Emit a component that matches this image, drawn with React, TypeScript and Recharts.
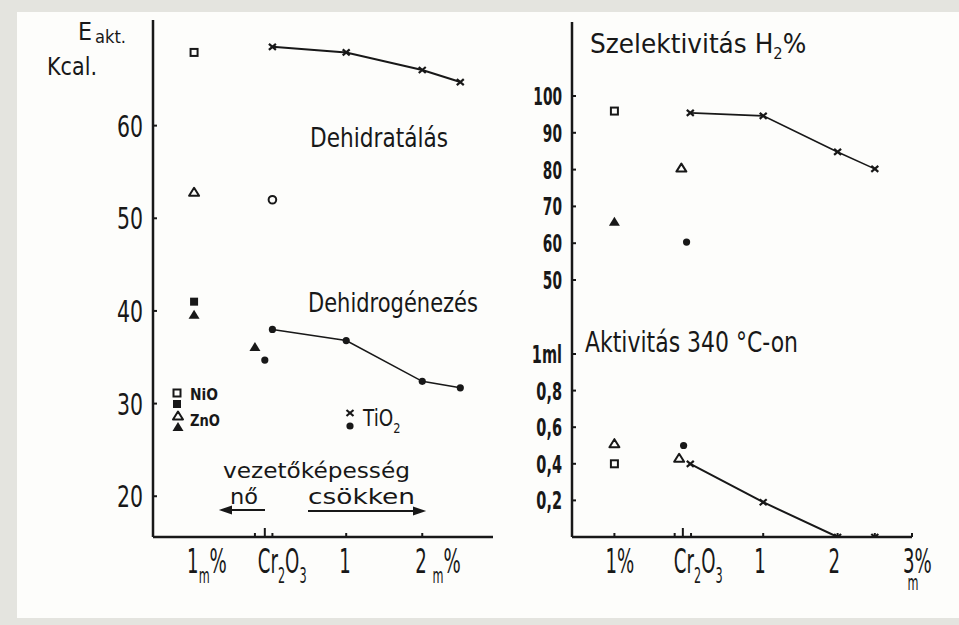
import React from 'react';
import { ScatterChart, Scatter, XAxis, YAxis } from 'recharts';

const INK = '#181818';
const PAPER = '#fdfdfb';
const FONT = "'DejaVu Sans', 'Liberation Sans', sans-serif";

type Pt = { x: number; y: number };
type Part = [string, boolean, number?, number?];

// --- E akt. (kcal) panel ---
const eNiODehydration: Pt[] = [{ x: -1, y: 67.9 }];
const eZnODehydration: Pt[] = [{ x: -1, y: 52.8 }];
const eNiODehydrogenation: Pt[] = [{ x: -1, y: 41.0 }];
const eZnODehydrogenation: Pt[] = [{ x: -1, y: 39.6 }];
const eCr2O3Dehydration: Pt[] = [{ x: 0.03, y: 52.0 }];
const eZnOCr2O3Dehydrogenation: Pt[] = [{ x: -0.2, y: 36.1 }];
const eCr2O3Dehydrogenation: Pt[] = [{ x: -0.07, y: 34.7 }];
const eTiO2Dehydration: Pt[] = [
  { x: 0.03, y: 68.5 },
  { x: 1, y: 67.9 },
  { x: 2, y: 66.0 },
  { x: 2.5, y: 64.7 },
];
const eTiO2Dehydrogenation: Pt[] = [
  { x: 0.03, y: 38.0 },
  { x: 1, y: 36.8 },
  { x: 2, y: 32.4 },
  { x: 2.5, y: 31.7 },
];
const eYTicks = [20, 30, 40, 50, 60];
const eXMarks = [-0.2, -0.07, 0.03, 1, 2];
const eXLabelValues = [-1, -0.07, 1, 2];
const eXLabels: Part[][] = [
  [['1', false], ['m', true], ['%', false]],
  [['Cr', false], ['2', true], ['O', false], ['3', true]],
  [['1', false]],
  [['2 ', false], ['m', true], ['%', false]],
];

// --- Szelektivitás H2 % panel ---
const sNiO: Pt[] = [{ x: -1, y: 95.9 }];
const sZnO: Pt[] = [{ x: -1, y: 65.8 }];
const sCr2O3Triangle: Pt[] = [{ x: -0.1, y: 80.4 }];
const sCr2O3Dot: Pt[] = [{ x: -0.03, y: 60.3 }];
const sTiO2: Pt[] = [
  { x: 0.02, y: 95.4 },
  { x: 1, y: 94.6 },
  { x: 2, y: 84.8 },
  { x: 2.5, y: 80.2 },
];
const sYTicks = [50, 60, 70, 80, 90, 100];

// --- Aktivitás 340 °C-on panel (ml) ---
const aZnO: Pt[] = [{ x: -1, y: 0.51 }];
const aNiO: Pt[] = [{ x: -1, y: 0.4 }];
const aCr2O3Dot: Pt[] = [{ x: -0.07, y: 0.5 }];
const aCr2O3Triangle: Pt[] = [{ x: -0.13, y: 0.43 }];
const aTiO2: Pt[] = [
  { x: 0.02, y: 0.4 },
  { x: 1, y: 0.19 },
  { x: 2, y: 0.0 },
  { x: 2.5, y: 0.0 },
];
const aYTicks = [0.2, 0.4, 0.6, 0.8, 1];
const aYLabels = ['0,2', '0,4', '0,6', '0,8', '1ml'];
const rXMarks = [-1, -0.19, -0.08, 0.03, 1, 2, 2.5, 3];
const rXLabelValues = [-1, -0.08, 1, 2, 3];
const rXLabels: Part[][] = [
  [['1%', false]],
  [['Cr', false], ['2', true], ['O', false], ['3', true]],
  [['1', false]],
  [['2', false]],
  [['3%', false], ['m', true, -44, 7]],
];

// marker shapes
const OpenSquare = ({ cx = 0, cy = 0 }: any) => (
  <rect x={cx - 3.5} y={cy - 3.5} width={7} height={7} fill={PAPER} stroke={INK} strokeWidth={2} />
);
const FilledSquare = ({ cx = 0, cy = 0 }: any) => (
  <rect x={cx - 4} y={cy - 4} width={8} height={8} fill={INK} />
);
const OpenTriangle = ({ cx = 0, cy = 0 }: any) => (
  <path
    d={`M${cx},${cy - 4.5}L${cx + 5},${cy + 3.5}L${cx - 5},${cy + 3.5}Z`}
    fill={PAPER}
    stroke={INK}
    strokeWidth={2}
    strokeLinejoin="round"
  />
);
const FilledTriangle = ({ cx = 0, cy = 0 }: any) => (
  <path d={`M${cx},${cy - 5}L${cx + 5.5},${cy + 4}L${cx - 5.5},${cy + 4}Z`} fill={INK} />
);
const OpenCircle = ({ cx = 0, cy = 0 }: any) => (
  <circle cx={cx} cy={cy} r={3.8} fill={PAPER} stroke={INK} strokeWidth={2} />
);
const Dot = ({ cx = 0, cy = 0 }: any) => <circle cx={cx} cy={cy} r={3.6} fill={INK} />;
const Cross = ({ cx = 0, cy = 0 }: any) => (
  <g stroke={INK} strokeWidth={2.2}>
    <line x1={cx - 3.5} y1={cy - 3} x2={cx + 3.5} y2={cy + 3} />
    <line x1={cx - 3.5} y1={cy + 3} x2={cx + 3.5} y2={cy - 3} />
  </g>
);

// text runs with subscripts; optional dx/dy nudge a run off its default spot
const Rich = ({ parts, size }: { parts: Part[]; size: number }) => {
  let prev = false;
  return (
    <>
      {parts.map(([t, sub, dx, dy], i) => {
        const shift = sub === prev ? 0 : sub ? size * 0.3 : -size * 0.3;
        prev = sub;
        return (
          <tspan key={i} dy={shift + (dy ?? 0)} dx={dx ?? 0} fontSize={sub ? size * 0.62 : size}>
            {t}
          </tspan>
        );
      })}
    </>
  );
};

// horizontally squeezed text, the lettering on the sheet is very narrow
const Narrow = ({ x, y, size, sx, anchor = 'start', weight = 400, children }: any) => (
  <text
    transform={`translate(${x},${y}) scale(${sx},1)`}
    textAnchor={anchor}
    fontFamily={FONT}
    fontSize={size}
    fontWeight={weight}
    fill={INK}
  >
    {children}
  </text>
);

const xTick = (labelValues: number[], labels: Part[][], marks: number[], tall: number, shift: number) => (props: any) => {
  const { x, y, payload } = props;
  const v = payload.value;
  const li = labelValues.indexOf(v);
  const isMark = marks.includes(v);
  return (
    <g>
      {isMark && (
        <line x1={x} x2={x} y1={y} y2={y - (v === tall ? 9 : 4)} stroke={INK} strokeWidth={2} />
      )}
      {li >= 0 && (
        <Narrow x={x + shift} y={y + 36} size={33} sx={0.55}>
          <Rich parts={labels[li]} size={33} />
        </Narrow>
      )}
    </g>
  );
};

const yTick = (size: number, sx: number, weight: number, labelFor: (v: number) => string) => (props: any) => {
  const { x, y, payload } = props;
  return (
    <g>
      <line x1={x} x2={x + 4} y1={y} y2={y} stroke={INK} strokeWidth={2} />
      <Narrow x={x - 10} y={y + size * 0.36} size={size} sx={sx} anchor="end" weight={weight}>
        {labelFor(payload.value)}
      </Narrow>
    </g>
  );
};

const axisLine = { stroke: INK, strokeWidth: 2.5 };
const trend = { stroke: INK, strokeWidth: 1.6 };

const txt = (x: number, y: number, size: number, s: React.ReactNode, extra: any = {}) => (
  <text x={x} y={y} fontFamily={FONT} fontSize={size} fill={INK} lengthAdjust="spacingAndGlyphs" {...extra}>
    {s}
  </text>
);

const Arrow = ({ x1, x2, y }: { x1: number; x2: number; y: number }) => {
  const d = x2 > x1 ? -1 : 1;
  return (
    <g stroke={INK} strokeWidth={2} fill={INK}>
      <line x1={x1} x2={x2} y1={y} y2={y} />
      <path d={`M${x2},${y}L${x2 + d * 9},${y - 3}L${x2 + d * 9},${y + 3}Z`} />
    </g>
  );
};

export default function App() {
  const allRX = Array.from(new Set([...rXMarks, ...rXLabelValues])).sort((a, b) => a - b);
  const allEX = Array.from(new Set([...eXMarks, ...eXLabelValues])).sort((a, b) => a - b);
  return (
    <div style={{ position: 'absolute', left: 0, top: 0, width: 959, height: 625, background: '#e4e4df', overflow: 'hidden' }}>
      <div style={{ position: 'absolute', left: 17, top: 12, right: 0, bottom: 7, background: PAPER }} />

      <div style={{ position: 'absolute', left: 0, top: 0 }}>
        <ScatterChart width={500} height={625} margin={{ top: 20, right: 7, bottom: 38, left: 93 }}>
          <XAxis
            type="number"
            dataKey="x"
            domain={[-1.54, 2.93]}
            allowDataOverflow
            ticks={allEX}
            interval={0}
            height={50}
            axisLine={axisLine}
            tickLine={false}
            tickSize={0}
            tickMargin={0}
            tick={xTick(eXLabelValues, eXLabels, eXMarks, -0.07, -7)}
          />
          <YAxis
            type="number"
            dataKey="y"
            domain={[15.6, 71.4]}
            allowDataOverflow
            ticks={eYTicks}
            interval={0}
            width={60}
            axisLine={axisLine}
            tickLine={false}
            tickSize={0}
            tickMargin={0}
            tick={yTick(31, 0.66, 400, (v) => String(v))}
          />
          <Scatter data={eTiO2Dehydration} line={{ ...trend, strokeWidth: 2 }} lineType="joint" shape={Cross} isAnimationActive={false} />
          <Scatter data={eTiO2Dehydrogenation} line={trend} lineType="joint" shape={Dot} isAnimationActive={false} />
          <Scatter data={eNiODehydration} shape={OpenSquare} isAnimationActive={false} />
          <Scatter data={eZnODehydration} shape={OpenTriangle} isAnimationActive={false} />
          <Scatter data={eNiODehydrogenation} shape={FilledSquare} isAnimationActive={false} />
          <Scatter data={eZnODehydrogenation} shape={FilledTriangle} isAnimationActive={false} />
          <Scatter data={eCr2O3Dehydration} shape={OpenCircle} isAnimationActive={false} />
          <Scatter data={eZnOCr2O3Dehydrogenation} shape={FilledTriangle} isAnimationActive={false} />
          <Scatter data={eCr2O3Dehydrogenation} shape={Dot} isAnimationActive={false} />
        </ScatterChart>
      </div>

      <div style={{ position: 'absolute', left: 480, top: 0 }}>
        <ScatterChart width={479} height={300} margin={{ top: 22, right: 47, bottom: 0, left: 32 }}>
          <XAxis type="number" dataKey="x" domain={[-1.57, 3.0]} allowDataOverflow hide />
          <YAxis
            type="number"
            dataKey="y"
            domain={[44.57, 120.1]}
            allowDataOverflow
            ticks={sYTicks}
            interval={0}
            width={60}
            axisLine={axisLine}
            tickLine={false}
            tickSize={0}
            tickMargin={0}
            tick={yTick(25, 0.55, 700, (v) => String(v))}
          />
          <Scatter data={sTiO2} line={trend} lineType="joint" shape={Cross} isAnimationActive={false} />
          <Scatter data={sNiO} shape={OpenSquare} isAnimationActive={false} />
          <Scatter data={sZnO} shape={FilledTriangle} isAnimationActive={false} />
          <Scatter data={sCr2O3Triangle} shape={OpenTriangle} isAnimationActive={false} />
          <Scatter data={sCr2O3Dot} shape={Dot} isAnimationActive={false} />
        </ScatterChart>
      </div>

      <div style={{ position: 'absolute', left: 480, top: 300 }}>
        <ScatterChart width={479} height={325} margin={{ top: 0, right: 47, bottom: 38, left: 32 }}>
          <XAxis
            type="number"
            dataKey="x"
            domain={[-1.57, 3.0]}
            allowDataOverflow
            ticks={allRX}
            interval={0}
            height={50}
            axisLine={axisLine}
            tickLine={false}
            tickSize={0}
            tickMargin={0}
            tick={xTick(rXLabelValues, rXLabels, rXMarks, -0.08, -9)}
          />
          <YAxis
            type="number"
            dataKey="y"
            domain={[0, 1.295]}
            allowDataOverflow
            ticks={aYTicks}
            interval={0}
            width={60}
            axisLine={axisLine}
            tickLine={false}
            tickSize={0}
            tickMargin={0}
            tick={yTick(25, 0.58, 700, (v) => aYLabels[aYTicks.indexOf(v)] ?? '')}
          />
          <Scatter data={aTiO2} line={{ ...trend, strokeWidth: 2 }} lineType="joint" shape={Cross} isAnimationActive={false} />
          <Scatter data={aZnO} shape={OpenTriangle} isAnimationActive={false} />
          <Scatter data={aNiO} shape={OpenSquare} isAnimationActive={false} />
          <Scatter data={aCr2O3Dot} shape={Dot} isAnimationActive={false} />
          <Scatter data={aCr2O3Triangle} shape={OpenTriangle} isAnimationActive={false} />
        </ScatterChart>
      </div>

      {/* titles, legend and notes */}
      <svg width={959} height={625} style={{ position: 'absolute', left: 0, top: 0, pointerEvents: 'none' }}>
        {txt(78, 40, 25, 'E', { textLength: 14 })}
        {txt(95, 43, 18, 'akt.', { textLength: 31 })}
        {txt(47, 75, 25, 'Kcal.', { textLength: 50 })}
        {txt(310, 147, 27, 'Dehidratálás', { textLength: 138 })}
        {txt(308, 312, 27, 'Dehidrogénezés', { textLength: 170 })}

        <OpenSquare cx={177} cy={393} />
        <FilledSquare cx={177} cy={404} />
        <OpenTriangle cx={178} cy={416} />
        <FilledTriangle cx={178} cy={427} />
        {txt(190, 400, 16, 'NiO', { fontWeight: 700, textLength: 28 })}
        {txt(190, 426, 16, 'ZnO', { fontWeight: 700, textLength: 30 })}
        <Cross cx={350} cy={413} />
        <Dot cx={350} cy={426} />
        <Narrow x={363} y={426} size={23} sx={0.8}>
          <Rich parts={[['TiO', false], ['2', true]]} size={23} />
        </Narrow>

        {txt(223, 478, 22, 'vezetőképesség', { textLength: 187 })}
        {txt(230, 504, 21, 'nő', { textLength: 28 })}
        {txt(308, 504, 21, 'csökken', { textLength: 107 })}
        <Arrow x1={265} x2={222} y={510} />
        <Arrow x1={308} x2={423} y={511} />

        <Narrow x={590} y={53} size={27} sx={0.92}>
          <tspan>Szelektivitás </tspan>
          <tspan>H</tspan>
          <tspan dy={6} fontSize={16}>2</tspan>
          <tspan dy={-6}>%</tspan>
        </Narrow>
        {txt(585, 352, 28, 'Aktivitás 340 °C-on', { textLength: 213 })}
      </svg>
    </div>
  );
}
